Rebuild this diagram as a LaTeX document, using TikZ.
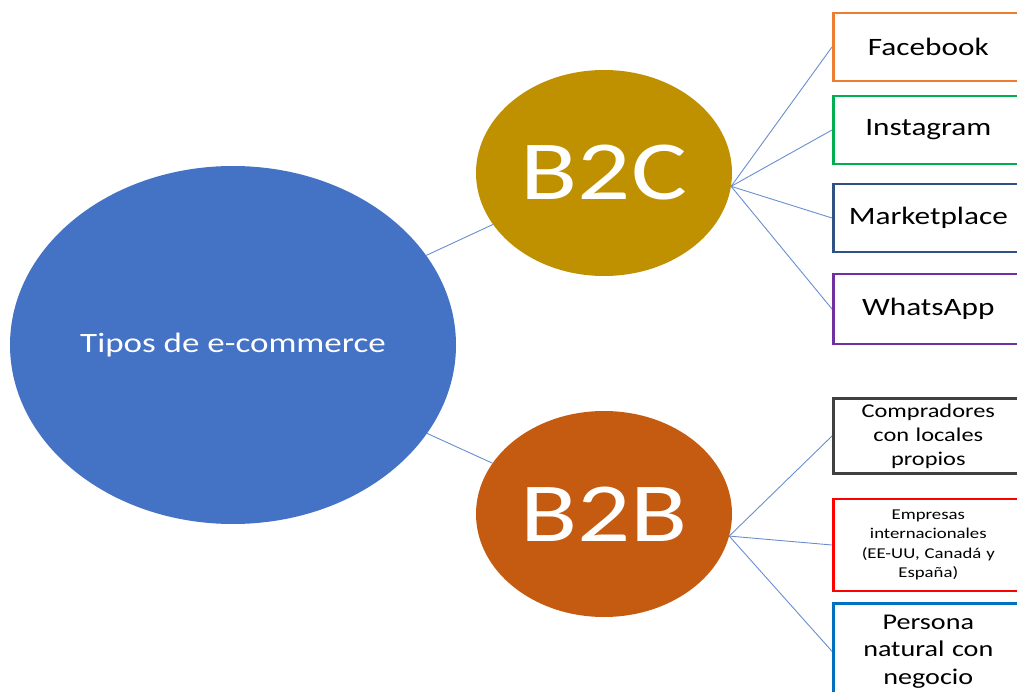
\documentclass[tikz,border=0pt]{standalone}
\usepackage{fontspec}
\setmainfont{Carlito}[FakeStretch=1.25]
\usepackage{xcolor}
\usetikzlibrary{shapes.geometric}

\definecolor{tiposblue}{HTML}{4472C4}
\definecolor{btocgold}{HTML}{BF9000}
\definecolor{btoborange}{HTML}{C55A11}
\definecolor{fbcolor}{HTML}{ED7D31}
\definecolor{igcolor}{HTML}{00B050}
\definecolor{mkcolor}{HTML}{2F5183}
\definecolor{wacolor}{HTML}{7030A0}
\definecolor{cpcolor}{HTML}{404040}
\definecolor{emcolor}{HTML}{FF0000}
\definecolor{pncolor}{HTML}{0070C0}

\begin{document}
\begin{tikzpicture}[x=1pt,y=-1pt,
            tipo/.style = {ellipse,
                        minimum width = 256pt,
                        minimum height = 206pt,
                        text=white,
                        font=\fontsize{84}{84}\selectfont},
            canal/.style = {rectangle,
                        draw,
                        line width=2.6pt,
                        fill=white,
                        minimum width = 190pt,
                        text width = 178pt,
                        align=center,
                        anchor=west},
            enlace/.style = {draw=tiposblue!80,
                        line width=0.9pt}]
            \clip (0,0) rectangle (1017,692);
            % Central node
            \node[ellipse,fill=tiposblue,minimum width=446pt,minimum height=358pt,
                text=white,font=\fontsize{28}{28}\selectfont] (tipos) at (233,345) {Tipos de e-commerce};
            % B2C and B2B
            \node[tipo,fill=btocgold] (B2C) at (604,173) {B2C};
            \node[tipo,fill=btoborange] (B2B) at (604,514) {B2B};
            % B2C channels
            \node[canal,draw=fbcolor,minimum height=68pt,font=\fontsize{25}{25}\selectfont] (fb) at (832,47) {Facebook};
            \node[canal,draw=igcolor,minimum height=68pt,font=\fontsize{25}{25}\selectfont] (ig) at (832,130) {Instagram};
            \node[canal,draw=mkcolor,minimum height=68pt,font=\fontsize{25}{25}\selectfont] (mk) at (832,218) {Marketplace};
            \node[canal,draw=wacolor,minimum height=70pt,font=\fontsize{25}{25}\selectfont] (wa) at (832,309) {WhatsApp};
            % B2B buyers
            \node[canal,draw=cpcolor,minimum height=75pt,font=\fontsize{19.5}{24}\selectfont] (cp) at (832,436) {Compradores\\con locales\\propios};
            \node[canal,draw=emcolor,minimum height=92pt,font=\fontsize{15}{19.5}\selectfont] (em) at (832,545) {Empresas\\internacionales\\(EE-UU, Canadá y\\España)};
            \node[canal,draw=pncolor,minimum height=96pt,font=\fontsize{22.5}{27.5}\selectfont,anchor=north west] (pn) at (832,602) {Persona\\natural con\\negocio};
            % Connectors
            \draw[enlace] (tipos) -- (B2C);
            \draw[enlace] (tipos) -- (B2B);
            \foreach \c in {fb,ig,mk,wa}
                \draw[enlace] (B2C.-6) -- (\c.west);
            \draw[enlace] (B2B.-10) -- (cp.west);
            \draw[enlace] (B2B.-10) -- (em.west);
            \draw[enlace] (B2B.-10) -- (pn.west);
        \end{tikzpicture}
\end{document}
